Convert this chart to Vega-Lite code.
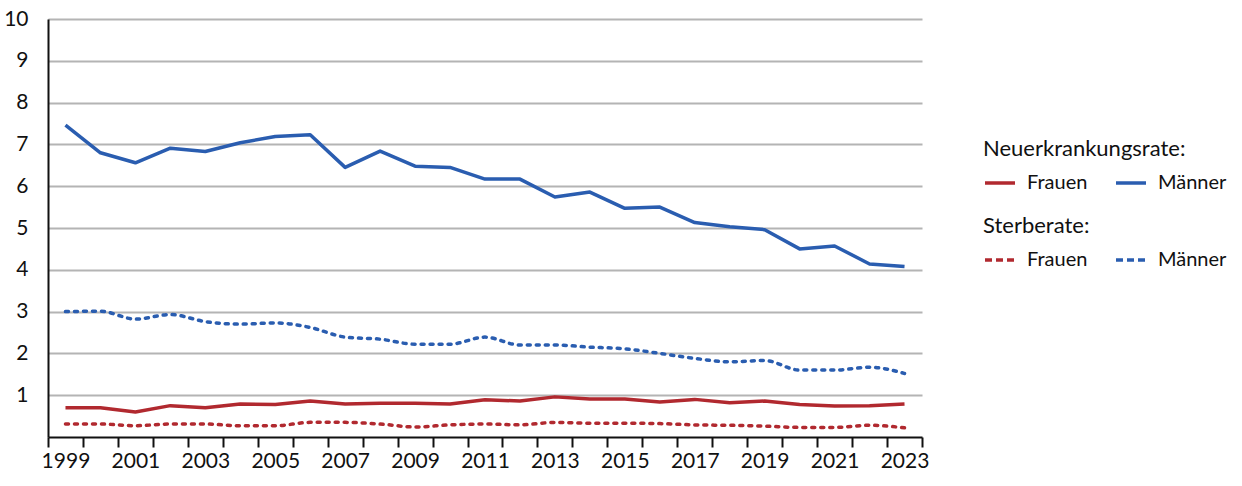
{
  "$schema": "https://vega.github.io/schema/vega-lite/v6.json",
  "width": 874,
  "height": 418,
  "autosize": {"type": "none"},
  "padding": {"left": 48, "top": 19, "right": 320, "bottom": 49},
  "background": "white",
  "config": {
    "font": "Lato",
    "view": {"stroke": null},
    "axis": {"labelFont": "Lato", "labelColor": "#111111", "labelFontSize": 21},
    "legend": {"titleFont": "Lato", "labelFont": "Lato", "titleLimit": 400, "labelLimit": 200}
  },
  "datasets": {
    "neuerkrankung": [
      {"jahr": 1999, "geschlecht": "Frauen", "rate": 0.70}, {"jahr": 2000, "geschlecht": "Frauen", "rate": 0.70},
      {"jahr": 2001, "geschlecht": "Frauen", "rate": 0.60}, {"jahr": 2002, "geschlecht": "Frauen", "rate": 0.75},
      {"jahr": 2003, "geschlecht": "Frauen", "rate": 0.70}, {"jahr": 2004, "geschlecht": "Frauen", "rate": 0.79},
      {"jahr": 2005, "geschlecht": "Frauen", "rate": 0.78}, {"jahr": 2006, "geschlecht": "Frauen", "rate": 0.86},
      {"jahr": 2007, "geschlecht": "Frauen", "rate": 0.79}, {"jahr": 2008, "geschlecht": "Frauen", "rate": 0.81},
      {"jahr": 2009, "geschlecht": "Frauen", "rate": 0.81}, {"jahr": 2010, "geschlecht": "Frauen", "rate": 0.79},
      {"jahr": 2011, "geschlecht": "Frauen", "rate": 0.89}, {"jahr": 2012, "geschlecht": "Frauen", "rate": 0.86},
      {"jahr": 2013, "geschlecht": "Frauen", "rate": 0.96}, {"jahr": 2014, "geschlecht": "Frauen", "rate": 0.91},
      {"jahr": 2015, "geschlecht": "Frauen", "rate": 0.91}, {"jahr": 2016, "geschlecht": "Frauen", "rate": 0.84},
      {"jahr": 2017, "geschlecht": "Frauen", "rate": 0.90}, {"jahr": 2018, "geschlecht": "Frauen", "rate": 0.82},
      {"jahr": 2019, "geschlecht": "Frauen", "rate": 0.86}, {"jahr": 2020, "geschlecht": "Frauen", "rate": 0.78},
      {"jahr": 2021, "geschlecht": "Frauen", "rate": 0.74}, {"jahr": 2022, "geschlecht": "Frauen", "rate": 0.75},
      {"jahr": 2023, "geschlecht": "Frauen", "rate": 0.79},
      {"jahr": 1999, "geschlecht": "Männer", "rate": 7.46}, {"jahr": 2000, "geschlecht": "Männer", "rate": 6.80},
      {"jahr": 2001, "geschlecht": "Männer", "rate": 6.56}, {"jahr": 2002, "geschlecht": "Männer", "rate": 6.91},
      {"jahr": 2003, "geschlecht": "Männer", "rate": 6.83}, {"jahr": 2004, "geschlecht": "Männer", "rate": 7.04},
      {"jahr": 2005, "geschlecht": "Männer", "rate": 7.19}, {"jahr": 2006, "geschlecht": "Männer", "rate": 7.23},
      {"jahr": 2007, "geschlecht": "Männer", "rate": 6.45}, {"jahr": 2008, "geschlecht": "Männer", "rate": 6.84},
      {"jahr": 2009, "geschlecht": "Männer", "rate": 6.48}, {"jahr": 2010, "geschlecht": "Männer", "rate": 6.45},
      {"jahr": 2011, "geschlecht": "Männer", "rate": 6.17}, {"jahr": 2012, "geschlecht": "Männer", "rate": 6.17},
      {"jahr": 2013, "geschlecht": "Männer", "rate": 5.74}, {"jahr": 2014, "geschlecht": "Männer", "rate": 5.86},
      {"jahr": 2015, "geschlecht": "Männer", "rate": 5.47}, {"jahr": 2016, "geschlecht": "Männer", "rate": 5.50},
      {"jahr": 2017, "geschlecht": "Männer", "rate": 5.13}, {"jahr": 2018, "geschlecht": "Männer", "rate": 5.03},
      {"jahr": 2019, "geschlecht": "Männer", "rate": 4.96}, {"jahr": 2020, "geschlecht": "Männer", "rate": 4.50},
      {"jahr": 2021, "geschlecht": "Männer", "rate": 4.57}, {"jahr": 2022, "geschlecht": "Männer", "rate": 4.14},
      {"jahr": 2023, "geschlecht": "Männer", "rate": 4.08}
    ],
    "sterberate": [
      {"jahr": 1999, "geschlecht": "Frauen", "rate": 0.31}, {"jahr": 2000, "geschlecht": "Frauen", "rate": 0.31},
      {"jahr": 2001, "geschlecht": "Frauen", "rate": 0.27}, {"jahr": 2002, "geschlecht": "Frauen", "rate": 0.31},
      {"jahr": 2003, "geschlecht": "Frauen", "rate": 0.31}, {"jahr": 2004, "geschlecht": "Frauen", "rate": 0.27},
      {"jahr": 2005, "geschlecht": "Frauen", "rate": 0.27}, {"jahr": 2006, "geschlecht": "Frauen", "rate": 0.35},
      {"jahr": 2007, "geschlecht": "Frauen", "rate": 0.35}, {"jahr": 2008, "geschlecht": "Frauen", "rate": 0.31},
      {"jahr": 2009, "geschlecht": "Frauen", "rate": 0.24}, {"jahr": 2010, "geschlecht": "Frauen", "rate": 0.29},
      {"jahr": 2011, "geschlecht": "Frauen", "rate": 0.31}, {"jahr": 2012, "geschlecht": "Frauen", "rate": 0.29},
      {"jahr": 2013, "geschlecht": "Frauen", "rate": 0.35}, {"jahr": 2014, "geschlecht": "Frauen", "rate": 0.33},
      {"jahr": 2015, "geschlecht": "Frauen", "rate": 0.33}, {"jahr": 2016, "geschlecht": "Frauen", "rate": 0.32},
      {"jahr": 2017, "geschlecht": "Frauen", "rate": 0.29}, {"jahr": 2018, "geschlecht": "Frauen", "rate": 0.28},
      {"jahr": 2019, "geschlecht": "Frauen", "rate": 0.26}, {"jahr": 2020, "geschlecht": "Frauen", "rate": 0.23},
      {"jahr": 2021, "geschlecht": "Frauen", "rate": 0.23}, {"jahr": 2022, "geschlecht": "Frauen", "rate": 0.28},
      {"jahr": 2023, "geschlecht": "Frauen", "rate": 0.22},
      {"jahr": 1999, "geschlecht": "Männer", "rate": 3.00}, {"jahr": 2000, "geschlecht": "Männer", "rate": 3.01},
      {"jahr": 2001, "geschlecht": "Männer", "rate": 2.82}, {"jahr": 2002, "geschlecht": "Männer", "rate": 2.93},
      {"jahr": 2003, "geschlecht": "Männer", "rate": 2.76}, {"jahr": 2004, "geschlecht": "Männer", "rate": 2.70},
      {"jahr": 2005, "geschlecht": "Männer", "rate": 2.73}, {"jahr": 2006, "geschlecht": "Männer", "rate": 2.62},
      {"jahr": 2007, "geschlecht": "Männer", "rate": 2.39}, {"jahr": 2008, "geschlecht": "Männer", "rate": 2.34},
      {"jahr": 2009, "geschlecht": "Männer", "rate": 2.22}, {"jahr": 2010, "geschlecht": "Männer", "rate": 2.22},
      {"jahr": 2011, "geschlecht": "Männer", "rate": 2.39}, {"jahr": 2012, "geschlecht": "Männer", "rate": 2.20},
      {"jahr": 2013, "geschlecht": "Männer", "rate": 2.20}, {"jahr": 2014, "geschlecht": "Männer", "rate": 2.15},
      {"jahr": 2015, "geschlecht": "Männer", "rate": 2.11}, {"jahr": 2016, "geschlecht": "Männer", "rate": 2.00},
      {"jahr": 2017, "geschlecht": "Männer", "rate": 1.88}, {"jahr": 2018, "geschlecht": "Männer", "rate": 1.80},
      {"jahr": 2019, "geschlecht": "Männer", "rate": 1.83}, {"jahr": 2020, "geschlecht": "Männer", "rate": 1.60},
      {"jahr": 2021, "geschlecht": "Männer", "rate": 1.60}, {"jahr": 2022, "geschlecht": "Männer", "rate": 1.67},
      {"jahr": 2023, "geschlecht": "Männer", "rate": 1.52}
    ]
  },
  "encoding": {
    "x": {
      "field": "jahr",
      "type": "ordinal",
      "scale": {"type": "band", "paddingInner": 0, "paddingOuter": 0},
      "axis": {
        "title": null,
        "labelAngle": 0,
        "labelExpr": "datum.value % 2 === 1 ? datum.label : ''",
        "tickBand": "extent",
        "ticks": true,
        "tickSize": 10,
        "tickWidth": 2,
        "tickColor": "#111111",
        "domainColor": "#111111",
        "domainWidth": 2,
        "labelPadding": 3,
        "grid": false
      }
    },
    "y": {
      "field": "rate",
      "type": "quantitative",
      "scale": {"domain": [0, 10], "nice": false, "zero": true},
      "axis": {
        "title": null,
        "values": [1, 2, 3, 4, 5, 6, 7, 8, 9, 10],
        "ticks": false,
        "labelPadding": 20,
        "domainColor": "#111111",
        "domainWidth": 2,
        "grid": true,
        "gridColor": "#b4b4b4",
        "gridWidth": 2
      }
    }
  },
  "layer": [
    {
      "data": {"name": "neuerkrankung"},
      "mark": {"type": "line", "strokeWidth": 3.5, "strokeJoin": "round"},
      "encoding": {
        "color": {
          "field": "geschlecht",
          "type": "nominal",
          "scale": {"domain": ["Frauen", "Männer"], "range": ["#b1292f", "#2a5db0"]},
          "legend": {
            "title": "Neuerkrankungsrate:",
            "orient": "none",
            "legendX": 935,
            "legendY": 120,
            "direction": "horizontal",
            "columns": 2,
            "columnPadding": 21,
            "symbolType": "stroke",
            "symbolSize": 900,
            "symbolStrokeWidth": 3.5,
            "labelOffset": 10,
            "labelFontSize": 20,
            "labelColor": "#111111",
            "titleFontSize": 22,
            "titleFontWeight": "normal",
            "titleColor": "#111111",
            "titlePadding": 5
          }
        }
      }
    },
    {
      "data": {"name": "sterberate"},
      "mark": {"type": "line", "strokeWidth": 3.5, "strokeDash": [3, 6], "strokeCap": "round", "interpolate": "monotone"},
      "encoding": {
        "color": {
          "field": "geschlecht",
          "type": "nominal",
          "scale": {"domain": ["Frauen", "Männer"], "range": ["#b1292f", "#2a5db0"]},
          "legend": {
            "title": "Sterberate:",
            "orient": "none",
            "legendX": 935,
            "legendY": 197,
            "direction": "horizontal",
            "columns": 2,
            "columnPadding": 21,
            "symbolType": "stroke",
            "symbolSize": 900,
            "symbolStrokeWidth": 3.5,
            "symbolDash": [7, 4],
            "labelOffset": 10,
            "labelFontSize": 20,
            "labelColor": "#111111",
            "titleFontSize": 22,
            "titleFontWeight": "normal",
            "titleColor": "#111111",
            "titlePadding": 5
          }
        }
      }
    }
  ],
  "resolve": {"scale": {"color": "independent"}}
}
